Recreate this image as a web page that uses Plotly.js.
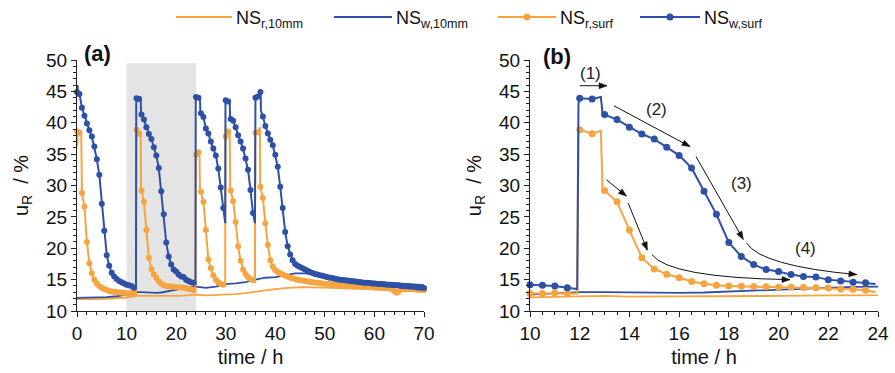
<!DOCTYPE html>
<html><head><meta charset="utf-8">
<script src="https://cdn.plot.ly/plotly-3.0.1.min.js"></script>
<style>html,body{margin:0;padding:0;background:#fff;}#chart{width:895px;height:373px;}</style>
</head><body><div id="chart"></div>
<script>
// ---------- DATA ----------
// legend labels (order as in the reference legend)
const seriesNames = ['NS<sub>r,10mm</sub>', 'NS<sub>w,10mm</sub>', 'NS<sub>r,surf</sub>', 'NS<sub>w,surf</sub>'];

// NS_w,surf : time (h) and u_R (%)
const tWsurf = [0,0.1,0.25,0.5,1,1.5,2,2.5,3,3.5,4,4.5,5,5.5,6,6.5,7,7.5,8,8.5,9,9.5,10,10.5,11,11.5,11.9,
  11.95,12,12.5,12.85,12.92,13,13.5,14,14.5,15,15.5,16,16.5,17,17.5,18,18.5,19,19.5,20,20.5,21,21.5,22,22.5,23,23.5,23.9,
  23.95,24,24.5,24.8,24.9,25,25.5,26,26.5,27,27.5,28,28.5,29,29.5,29.9,
  29.95,30,30.5,30.8,30.9,31,31.5,32,32.5,33,33.5,34,34.5,35,35.5,35.9,
  35.95,36,36.5,37,37.05,37.1,37.5,38,38.5,39,39.5,40,40.5,41,41.5,42,42.5,43,43.5,44,44.5,45,45.5,46,46.5,47,47.5,48,48.5,49,49.5,
  50,50.5,51,51.5,52,52.5,53,53.5,54,54.5,55,55.5,56,56.5,57,57.5,58,58.5,59,59.5,60,60.5,61,61.5,62,62.5,63,63.5,64,64.5,65,65.5,66,66.5,67,67.5,68,68.5,69,69.5,70];
const uWsurf = [44.9,46.0,44.2,44.6,42.4,41.1,39.9,38.8,37.8,36.2,34.2,31.7,27.1,22.8,18.9,17.2,16.1,15.5,15.1,14.8,14.6,14.4,14.2,14.1,14.0,13.7,13.5,
  43.0,43.9,43.8,44.1,41.5,41.3,40.5,39.3,38.2,37.4,36.1,34.8,32.8,29.1,25.4,20.9,18.7,17.4,16.6,16.3,15.8,15.5,15.4,15.0,14.8,14.6,14.5,14.3,
  43.8,44.1,44.0,43.9,41.6,41.5,40.9,39.1,38.3,37.0,35.9,34.8,32.7,29.7,26.4,24.0,
  43.3,43.6,43.4,43.2,40.7,40.6,40.3,39.3,38.0,37.0,35.9,34.3,32.5,29.3,25.6,24.0,
  43.8,44.0,44.2,44.9,45.2,41.9,41.0,39.5,38.3,37.3,36.4,34.9,33.0,29.8,26.4,22.6,20.3,19.0,18.1,17.5,17.2,17.0,16.8,16.6,16.4,16.2,16.05,15.9,15.8,15.7,15.6,
  15.5,15.4,15.3,15.25,15.15,15.05,15.0,14.95,14.9,14.85,14.8,14.75,14.7,14.65,14.6,14.55,14.5,14.5,14.45,14.4,14.4,14.35,14.3,14.3,14.25,14.2,14.2,14.15,14.1,14.1,14.05,14.0,14.0,13.95,13.9,13.9,13.85,13.8,13.75,13.7,13.65];

// NS_r,surf
const tRsurf = [0,0.05,0.15,0.5,0.85,0.9,1,1.5,2,2.5,3,3.5,4,4.5,5,5.5,6,6.5,7,7.5,8,8.5,9,9.5,10,10.5,11,11.5,11.9,
  11.95,12,12.5,12.85,12.92,13,13.5,14,14.5,15,15.5,16,16.5,17,17.5,18,18.5,19,19.5,20,20.5,21,21.5,22,22.5,23,23.5,23.9,
  23.95,24,24.5,24.7,24.8,25,25.5,26,26.5,27,27.5,28,28.5,29,29.5,29.9,
  29.95,30,30.5,30.8,30.9,31,31.5,32,32.5,33,33.5,34,34.5,35,35.5,35.9,
  35.95,36,36.5,36.9,36.95,37,37.5,38,38.5,39,39.5,40,40.5,41,41.5,42,42.5,43,43.5,44,44.5,45,45.5,46,46.5,47,47.5,48,48.5,49,49.5,
  50,50.5,51,51.5,52,52.5,53,53.5,54,54.5,55,55.5,56,56.5,57,57.5,58,58.5,59,59.5,60,60.5,61,61.5,62,62.5,63,63.5,64,64.5,65,65.5,66,66.5,67,67.5,68,68.5,69,69.5,70];
const uRsurf = [38.6,36.2,38.9,38.4,38.6,29.3,28.8,26.6,21.0,17.6,16.0,15.0,14.4,14.0,13.7,13.5,13.35,13.2,13.1,13.05,13.0,12.95,12.9,12.9,12.8,12.8,12.85,12.8,12.8,
  38.3,38.9,38.25,38.7,29.5,29.2,27.4,22.9,18.5,16.7,15.85,15.3,14.7,14.35,14.1,14.0,13.95,13.9,13.85,13.8,13.8,13.75,13.7,13.65,13.5,13.45,13.3,13.0,
  34.8,34.9,35.3,35.6,29.5,29.0,27.4,22.9,18.2,16.8,15.7,15.0,14.6,14.3,14.2,14.15,
  37.5,37.8,38.6,38.9,29.6,29.2,27.5,24.2,20.3,18.0,16.6,15.9,15.4,15.1,14.9,14.7,
  38.2,38.4,38.5,39.3,30.0,29.8,28.0,24.0,20.5,18.1,17.1,16.5,16.2,16.0,15.8,15.6,15.5,15.3,15.2,15.1,15.0,14.9,14.85,14.8,14.7,14.65,14.6,14.55,14.5,14.45,14.4,
  14.35,14.3,14.3,14.25,14.2,14.15,14.1,14.1,14.05,14.0,14.0,13.95,13.95,13.9,13.9,13.85,13.85,13.8,13.8,13.8,13.75,13.75,13.7,13.7,13.65,13.65,13.6,13.5,13.2,12.9,13.2,13.45,13.5,13.5,13.5,13.45,13.45,13.4,13.4,13.4,13.35];

// NS_w,10mm
const tW10 = [0,2,4,6,8,10,11,12,13,14,15,16,17,18,19,20,21,22,23,24,26,28,30,32,34,36,38,40,42,44,46,48,50,52,55,58,61,64,67,70];
const uW10 = [12.1,12.1,12.2,12.2,12.35,12.6,12.85,13.0,13.0,12.95,12.9,12.9,12.95,13.1,13.3,13.5,13.65,13.75,13.85,13.9,13.7,13.9,14.3,14.4,14.6,15.0,15.3,15.4,15.7,16.0,16.0,15.8,15.6,15.3,15.0,14.8,14.6,14.4,14.2,14.1];

// NS_r,10mm
const tR10 = [0,2,4,6,8,10,12,13,14,16,18,20,22,24,26,28,30,32,34,36,38,40,42,45,48,50,55,60,65,70];
const uR10 = [11.9,11.85,11.9,11.95,12.0,12.15,12.4,12.4,12.3,12.3,12.35,12.4,12.5,12.6,12.5,12.55,12.7,12.7,12.85,13.1,13.3,13.5,13.65,13.8,13.75,13.7,13.6,13.5,13.35,13.2];

// axis ticks
const yTicks = [10,15,20,25,30,35,40,45,50];
const xTicksA = [0,10,20,30,40,50,60,70];
const xTicksB = [10,12,14,16,18,20,22,24];

// ---------- STYLE ----------
const BLUE = '#2E50A6', ORANGE = '#F6A440';
const FONT = 'Arial, "Liberation Sans", sans-serif';

const isMarkerTime = t => Math.abs(t * 2 - Math.round(t * 2)) < 1e-9;
function pick(ts, us, keep) {
  const x = [], y = [];
  ts.forEach((t, i) => { if (keep(t)) { x.push(t); y.push(us[i]); } });
  return {x, y};
}

const traces = [];
function addPanel(xa, ya, tMin, tMax, msize) {
  const inWin = t => t >= tMin && t <= tMax;
  const r10 = pick(tR10, uR10, () => true);
  const w10 = pick(tW10, uW10, () => true);
  traces.push({x: r10.x, y: r10.y, xaxis: xa, yaxis: ya, mode: 'lines', line: {color: ORANGE, width: 1.8}, showlegend: false, hoverinfo: 'skip'});
  traces.push({x: w10.x, y: w10.y, xaxis: xa, yaxis: ya, mode: 'lines', line: {color: BLUE, width: 1.8}, showlegend: false, hoverinfo: 'skip'});
  [[tRsurf, uRsurf, ORANGE], [tWsurf, uWsurf, BLUE]].forEach(([ts, us, c]) => {
    const ln = pick(ts, us, inWin);
    const mk = pick(ts, us, t => inWin(t) && isMarkerTime(t));
    traces.push({x: ln.x, y: ln.y, xaxis: xa, yaxis: ya, mode: 'lines', line: {color: c, width: 2}, showlegend: false, hoverinfo: 'skip'});
    traces.push({x: mk.x, y: mk.y, xaxis: xa, yaxis: ya, mode: 'markers', marker: {color: c, size: msize}, cliponaxis: false, showlegend: false, hoverinfo: 'skip'});
  });
}
addPanel('x', 'y', 0, 70, 6);
addPanel('x2', 'y2', 10, 23.92, 7);

// ---------- LAYOUT HELPERS ----------
const W = 895, H = 373;
const L = 77, R = 878, T = 60, B = 311;
const XB0 = 530; // left edge of panel (b)
const px = X => (X - L) / (R - L);
const py = Y => (B - Y) / (B - T);
const X2_RANGE = [10, 24], Y_RANGE = [10, 50];
const pxPerX2 = (R - XB0) / (X2_RANGE[1] - X2_RANGE[0]);
const pxPerY = (B - T) / (Y_RANGE[1] - Y_RANGE[0]);

function xAxis(domain, range, ticks, minorD) {
  return {domain, range, tickvals: ticks, ticks: 'outside', ticklen: 5, tickcolor: '#222', showline: true, linecolor: '#222', linewidth: 1,
    showgrid: false, zeroline: false, tickfont: {family: FONT, size: 19, color: '#111'},
    minor: {dtick: minorD, tick0: range[0], ticks: 'outside', ticklen: 3, tickcolor: '#222', showgrid: false},
    title: {text: 'time / h', font: {family: FONT, size: 20, color: '#111'}, standoff: 7}};
}
function yAxis(anchor) {
  return {anchor, domain: [0, 1], range: Y_RANGE, tickvals: yTicks, ticks: 'outside', ticklen: 5, tickcolor: '#222', showline: true, linecolor: '#222', linewidth: 1,
    showgrid: false, zeroline: false, tickfont: {family: FONT, size: 19, color: '#111'},
    minor: {dtick: 1, tick0: 10, ticks: 'outside', ticklen: 3, tickcolor: '#222', showgrid: false},
    title: {text: 'u<sub>R</sub>  / %', font: {family: FONT, size: 20, color: '#111'}, standoff: 12}};
}

// custom legend (line length as in the reference)
const legendItems = [
  {x0: 176, x1: 232, color: ORANGE, marker: false},
  {x0: 334, x1: 392, color: BLUE, marker: false},
  {x0: 498, x1: 556, color: ORANGE, marker: true},
  {x0: 640, x1: 700, color: BLUE, marker: true}
];
const legY = 17;
const shapes = [
  {type: 'rect', xref: 'x', yref: 'y', x0: 10, x1: 24, y0: 10, y1: 49.5, fillcolor: '#e4e4e4', line: {width: 0}, layer: 'below'}
];
const annotations = [];
legendItems.forEach((it, i) => {
  shapes.push({type: 'line', xref: 'paper', yref: 'paper', x0: px(it.x0), x1: px(it.x1), y0: py(legY), y1: py(legY), line: {color: it.color, width: 2}});
  if (it.marker) {
    const xm = px((it.x0 + it.x1) / 2);
    shapes.push({type: 'circle', xref: 'paper', yref: 'paper', xsizemode: 'pixel', ysizemode: 'pixel', xanchor: xm, yanchor: py(legY),
      x0: -3.5, x1: 3.5, y0: -3.5, y1: 3.5, fillcolor: it.color, line: {color: it.color, width: 0}});
  }
  annotations.push({xref: 'paper', yref: 'paper', x: px(it.x1 + 2), y: py(legY + 3), xanchor: 'left', yanchor: 'middle', showarrow: false,
    text: seriesNames[i], font: {family: FONT, size: 18, color: '#111'}});
});

// panel labels
annotations.push({xref: 'paper', yref: 'paper', x: px(97), y: py(53), xanchor: 'center', yanchor: 'middle', showarrow: false, text: '<b>(a)</b>', font: {family: FONT, size: 22, color: '#111'}});
annotations.push({xref: 'paper', yref: 'paper', x: px(557), y: py(56), xanchor: 'center', yanchor: 'middle', showarrow: false, text: '<b>(b)</b>', font: {family: FONT, size: 22, color: '#111'}});

// step labels and arrows in panel (b)
const stepLabels = [
  {text: '(1)', x: 12.44, y: 47.9},
  {text: '(2)', x: 15.1, y: 42.1},
  {text: '(3)', x: 18.52, y: 30.3},
  {text: '(4)', x: 21.07, y: 19.9}
];
stepLabels.forEach(s => annotations.push({xref: 'x2', yref: 'y2', x: s.x, y: s.y, showarrow: false, text: s.text, font: {family: FONT, size: 17, color: '#222'}}));

const straightArrows = [
  {tail: [12.0, 45.9], head: [13.1, 45.9]},
  {tail: [13.38, 42.7], head: [16.44, 36.2]},
  {tail: [16.68, 34.6], head: [18.58, 21.4]},
  {tail: [13.08, 30.9], head: [13.88, 28.3]},
  {tail: [13.95, 27.2], head: [14.72, 19.7]}
];
const curvedArrows = [
  {p0: [14.9, 19.0], c: [15.6, 15.3], p1: [20.46, 15.0]},
  {p0: [18.72, 20.8], c: [19.3, 17.2], p1: [23.15, 15.8]}
];
const ARROW = '#111';
// filled triangular head drawn in pixel offsets around the tip
function arrowHead(from, tip) {
  const dx = (tip[0] - from[0]) * pxPerX2, dy = (tip[1] - from[1]) * pxPerY;
  const n = Math.hypot(dx, dy) || 1, ux = dx / n, uy = dy / n;
  const len = 8, half = 3;
  const bx = -len * ux, by = -len * uy;
  const p1 = [bx - half * uy, by + half * ux], p2 = [bx + half * uy, by - half * ux];
  return {type: 'path', xref: 'x2', yref: 'y2', xsizemode: 'pixel', ysizemode: 'pixel', xanchor: tip[0], yanchor: tip[1],
    path: `M 0,0 L ${p1[0].toFixed(2)},${p1[1].toFixed(2)} L ${p2[0].toFixed(2)},${p2[1].toFixed(2)} Z`,
    fillcolor: ARROW, line: {color: ARROW, width: 0.5}};
}
straightArrows.forEach(a => {
  shapes.push({type: 'line', xref: 'x2', yref: 'y2', x0: a.tail[0], y0: a.tail[1], x1: a.head[0], y1: a.head[1], line: {color: ARROW, width: 1}});
  shapes.push(arrowHead(a.tail, a.head));
});
curvedArrows.forEach(a => {
  shapes.push({type: 'path', xref: 'x2', yref: 'y2', path: `M ${a.p0[0]},${a.p0[1]} Q ${a.c[0]},${a.c[1]} ${a.p1[0]},${a.p1[1]}`, line: {color: ARROW, width: 1}});
  shapes.push(arrowHead(a.c, a.p1));
});

const layout = {
  width: W, height: H,
  margin: {l: L, r: W - R, t: T, b: H - B, pad: 0},
  paper_bgcolor: '#fff', plot_bgcolor: 'rgba(0,0,0,0)',
  showlegend: false,
  font: {family: FONT, color: '#111'},
  xaxis: Object.assign(xAxis([0, px(424)], [0, 70], xTicksA, 2), {anchor: 'y'}),
  yaxis: yAxis('x'),
  xaxis2: Object.assign(xAxis([px(XB0), 1], X2_RANGE, xTicksB, 0.5), {anchor: 'y2'}),
  yaxis2: yAxis('x2'),
  shapes, annotations
};

Plotly.newPlot('chart', traces, layout, {staticPlot: true, displayModeBar: false});
</script></body></html>
